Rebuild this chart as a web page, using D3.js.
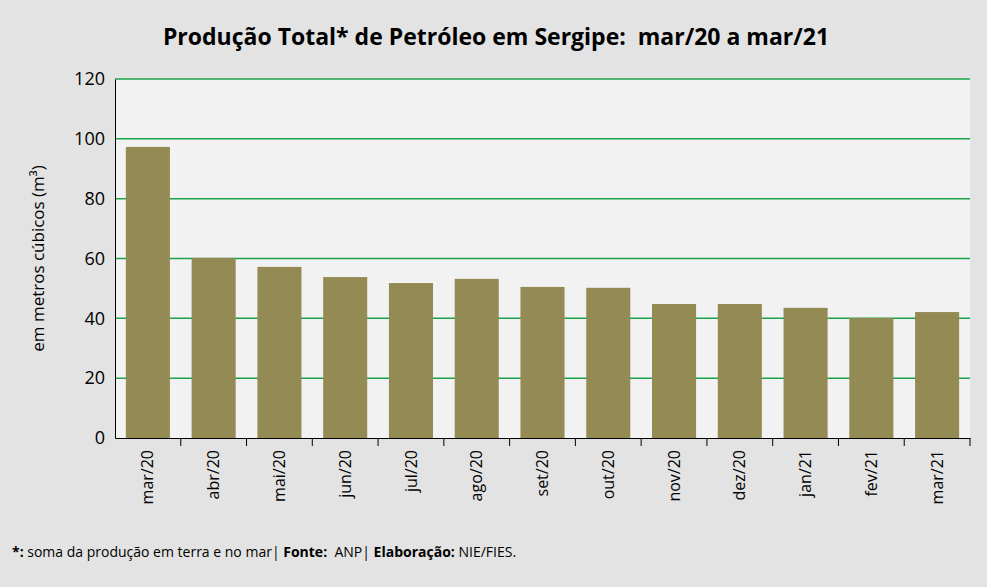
<!DOCTYPE html>
<html><head><meta charset="utf-8">
<script src="https://cdn.jsdelivr.net/npm/d3@7"></script>
<style>body{margin:0;background:#e3e3e3;font-family:"Open Sans",sans-serif;} text{white-space:pre;}</style>
</head><body>
<svg id="chart"></svg>
<script>
// Data
const months = ["mar/20","abr/20","mai/20","jun/20","jul/20","ago/20","set/20","out/20","nov/20","dez/20","jan/21","fev/21","mar/21"];
const production = [97.3, 60.2, 57.2, 53.8, 51.8, 53.2, 50.5, 50.2, 44.8, 44.8, 43.5, 40.1, 42.1];
const yTicks = [0, 20, 40, 60, 80, 100, 120];

const svgWidth = 987, svgHeight = 587;
const margin = {t: 79, b: 149, l: 115, r: 17};
const width = svgWidth - margin.l - margin.r;
const height = svgHeight - margin.t - margin.b;

const svg = d3.select("#chart").attr("width", svgWidth).attr("height", svgHeight);
svg.append("rect").attr("width", svgWidth).attr("height", svgHeight).attr("fill", "#e3e3e3");

const g = svg.append("g").attr("transform", `translate(${margin.l},${margin.t})`);
g.append("rect").attr("width", width).attr("height", height).attr("fill", "#f2f2f2");

const x = d3.scaleBand().domain(months).range([0, width]).paddingInner(0.33).paddingOuter(0.165);
const y = d3.scaleLinear().domain([0, 120]).range([height, 0]);

// Gridlines
g.selectAll(".grid").data(yTicks.filter(d => d > 0)).join("line")
    .attr("x1", 0).attr("x2", width)
    .attr("y1", d => y(d)).attr("y2", d => y(d))
    .attr("stroke", "#1aa34a").attr("stroke-width", 1.5);

// Bars
g.selectAll(".bar").data(production).join("rect")
    .attr("x", (d, i) => x(months[i]))
    .attr("y", d => y(d))
    .attr("width", x.bandwidth())
    .attr("height", d => height - y(d))
    .attr("fill", "#948a54");

// Axes
const leftAxis = d3.axisLeft(y).tickValues(yTicks).tickSize(0).tickPadding(10);
const la = g.append("g").call(leftAxis);
la.select(".domain").attr("stroke", "#000");
la.selectAll("text").attr("font-size", 18).attr("fill", "#000").attr("font-family", "Open Sans");

const bottomAxis = d3.axisBottom(x).tickSizeOuter(0).tickSizeInner(8);
const ba = g.append("g").attr("transform", `translate(0,${height})`).call(bottomAxis);
ba.select(".domain").attr("stroke", "#000");
ba.selectAll(".tick line").attr("stroke", "#000").attr("transform", `translate(${x.step() / 2},0)`);
ba.selectAll("text").attr("font-size", 16).attr("fill", "#000").attr("font-family", "Open Sans")
    .attr("transform", "rotate(-90)").attr("text-anchor", "end")
    .attr("x", -12).attr("y", 0).attr("dy", "0.35em");

// Titles
svg.append("text").attr("x", 496).attr("y", 45).attr("text-anchor", "middle")
    .attr("font-size", 23).attr("font-weight", "bold").text("Produção Total* de Petróleo em Sergipe:  mar/20 a mar/21");

svg.append("text").attr("transform", `translate(44,${margin.t + height / 2}) rotate(-90)`)
    .attr("text-anchor", "middle").attr("font-size", 17).text("em metros cúbicos (m³)");

const foot = svg.append("text").attr("x", 12).attr("y", 557).attr("font-size", 14);
foot.append("tspan").attr("font-weight", "bold").text("*:");
foot.append("tspan").text(" soma da produção em terra e no mar| ");
foot.append("tspan").attr("font-weight", "bold").text("Fonte:");
foot.append("tspan").text("  ANP| ");
foot.append("tspan").attr("font-weight", "bold").text("Elaboração:");
foot.append("tspan").text(" NIE/FIES.");
</script>
</body></html>
